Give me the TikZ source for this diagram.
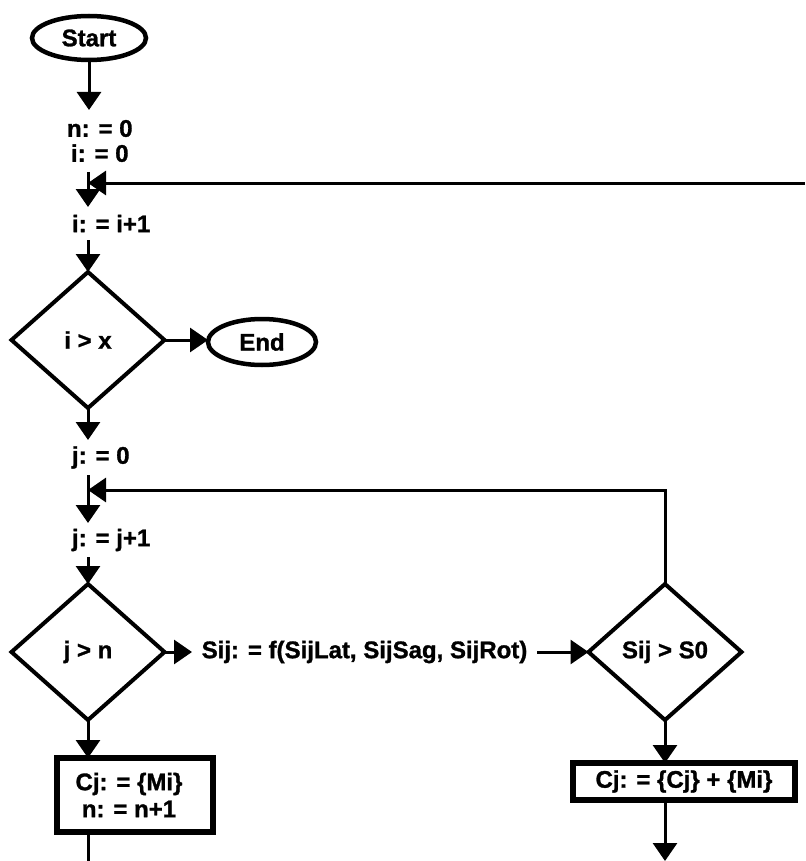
\documentclass[tikz,border=0pt]{standalone}
\usepackage{fontspec}
\setmainfont[BoldFeatures={FakeBold=1.2}]{Liberation Sans}
\usetikzlibrary{arrows.meta,shapes.geometric}
\begin{document}
\begin{tikzpicture}[x=1pt,y=-1pt,
  font=\fontsize{24}{25}\selectfont\bfseries,
  arr/.style={line width=3pt,-{Triangle[width=24pt,length=18pt]}},
  conn/.style={line width=3pt},
  term/.style={ellipse,draw,line width=4.5pt,inner sep=0pt,outer sep=0pt},
  dec/.style={diamond,draw,line width=4pt,minimum width=153pt,minimum height=136pt,inner sep=0pt,outer sep=0pt},
  proc/.style={rectangle,draw,line width=6pt,inner sep=0pt,outer sep=0pt,align=center},
  lbl/.style={inner sep=0pt,outer sep=0pt,anchor=west,align=center}]
\useasboundingbox (0,0) rectangle (805,861);
% nodes
\node[term,minimum width=114pt,minimum height=44pt] (start) at (89,38) {Start};
\node[lbl,minimum height=62pt] (init) at (67,141) {n: = 0\\i: = 0};
\node[lbl,minimum height=33pt] (inci) at (72,223.5) {i: = i+1};
\node[dec] (d1) at (88,340) {i > x};
\node[term,minimum width=108pt,minimum height=46pt] (end) at (262,342) {End};
\node[lbl,minimum height=35pt] (jz) at (72,457.5) {j: = 0};
\node[lbl,minimum height=34pt] (incj) at (72,540) {j: = j+1};
\node[dec] (d2) at (88,652) {j > n};
\node[inner sep=0pt,outer sep=0pt,minimum width=345pt] (calc) at (364.5,652) {Sij: = f(SijLat, SijSag, SijRot)};
\node[dec] (d3) at (665,652) {Sij > S0};
\node[proc,minimum width=156pt,minimum height=74pt] (box1) at (135,795) {Cj: = \{Mi\}\hspace*{12pt}\\[2pt]n: = n+1\hspace*{12pt}};
\node[proc,minimum width=222pt,minimum height=37pt] (box2) at (684,781.5) {Cj: = \{Cj\} + \{Mi\}};
\coordinate (rin) at (805,183);
\coordinate (jl) at (88,490);
\coordinate (bot1) at (88,861);
\coordinate (bot2) at (665,861);
% connectors
\draw[arr] (start.south) -- (start.south |- init.north);
\draw[arr] (d1.north |- init.south) -- (d1.north |- inci.north);
\draw[arr] (rin) -- (d1.north |- rin);
\draw[arr] (d1.north |- inci.south) -- (d1.north);
\draw[arr] (d1.east) -- (d1.east -| end.west);
\draw[arr] (d1.south) -- (d1.south |- jz.north);
\draw[arr] (d2.north |- jz.south) -- (d2.north |- incj.north);
\draw[arr] (d3.north) |- (jl);
\draw[arr] (d2.north |- incj.south) -- (d2.north);
\draw[arr] (d2.east) -- (calc.west);
\draw[arr] (calc.east) -- (d3.west);
\draw[arr] (d2.south) -- (d2.south |- box1.north);
\draw[conn] (bot1 |- box1.south) -- (bot1);
\draw[arr] (d3.south) -- (d3.south |- box2.north);
\draw[arr] (bot2 |- box2.south) -- (bot2);
\end{tikzpicture}
\end{document}
